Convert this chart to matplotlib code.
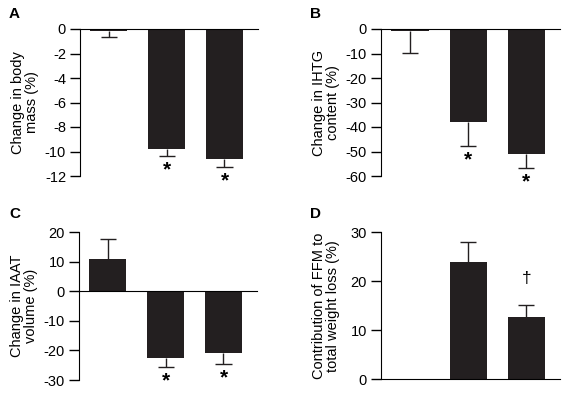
import numpy as np
import matplotlib
matplotlib.use('Agg')
import matplotlib.pyplot as plt

plt.rcParams['font.family'] = ['Liberation Sans', 'DejaVu Sans']
plt.rcParams['axes.unicode_minus'] = False

######data######
groups = [0, 1, 2]

mass_mean = [-0.15, -9.8, -10.6]
mass_err = [0.5, 0.57, 0.68]
mass_mark = ['', '*', '*']

ihtg_mean = [-0.8, -37.8, -51.0]
ihtg_err = [9.1, 9.8, 5.9]
ihtg_mark = ['', '*', '*']

iaat_mean = [11.0, -22.5, -20.8]
iaat_err = [6.6, 3.0, 3.7]
iaat_mark = ['', '*', '*']

ffm_mean = [np.nan, 24.0, 12.8]
ffm_err = [np.nan, 4.0, 2.4]
ffm_mark = ['', '', '\u2020']

bar_color = '#231f20'

fig = plt.figure(figsize=(5.67, 3.99), dpi=100)


def panel(rect, means, errs, marks, ylim, yticks, ylabel, letter, letter_xy):
    ax = fig.add_axes(rect)
    ax.bar(groups, means, width=0.64, color=bar_color, zorder=2)
    for x, m, e, mk in zip(groups, means, errs, marks):
        if np.isnan(m):
            continue
        # one-sided error bar, pointing away from zero
        end = m - e if m < 0 else m + e
        ax.vlines(x, m, end, color=bar_color, lw=1.0, zorder=1)
        ax.hlines(end, x - 0.14, x + 0.14, color=bar_color, lw=1.0, zorder=1)
        if mk == '*':
            ax.annotate(mk, (x, end), xytext=(0, -10), textcoords='offset points',
                        ha='center', va='center', fontsize=15, fontweight='bold',
                        annotation_clip=False)
        elif mk:
            ax.annotate(mk, (x, end), xytext=(0, 19), textcoords='offset points',
                        ha='center', va='center', fontsize=12.5, annotation_clip=False)
    ax.set_xlim(-0.5, 2.58)
    ax.set_ylim(*ylim)
    ax.set_yticks(yticks)
    ax.spines['top'].set_visible(False)
    ax.spines['right'].set_visible(False)
    ax.spines['bottom'].set_position(('data', 0))
    ax.spines['bottom'].set_zorder(3)
    ax.set_xticks([])
    ax.tick_params(axis='y', length=7, width=1, pad=3, labelsize=10.5)
    ax.set_ylabel(ylabel, fontsize=10.5, va='center', linespacing=1.0)
    ax.yaxis.set_label_coords(-0.31, 0.5)
    fig.text(letter_xy[0] / 567, 1 - letter_xy[1] / 399, letter,
             fontsize=11, fontweight='bold', va='top')
    return ax


panel([80 / 567, 1 - 176 / 399, 178 / 567, 147 / 399],
      mass_mean, mass_err, mass_mark, (-12, 0), range(-12, 1, 2),
      'Change in body\nmass (%)', 'A', (9, 7))
panel([381 / 567, 1 - 176 / 399, 179 / 567, 147 / 399],
      ihtg_mean, ihtg_err, ihtg_mark, (-60, 0), range(-60, 1, 10),
      'Change in IHTG\ncontent (%)', 'B', (310, 7))
panel([79 / 567, 1 - 380 / 399, 178 / 567, 147.7 / 399],
      iaat_mean, iaat_err, iaat_mark, (-30, 20), range(-30, 21, 10),
      'Change in IAAT\nvolume (%)', 'C', (9, 207))
panel([381 / 567, 1 - 379.3 / 399, 179 / 567, 147 / 399],
      ffm_mean, ffm_err, ffm_mark, (0, 30), range(0, 31, 10),
      'Contribution of FFM to\ntotal weight loss (%)', 'D', (310, 207))

fig.savefig('out.png', dpi=100)
